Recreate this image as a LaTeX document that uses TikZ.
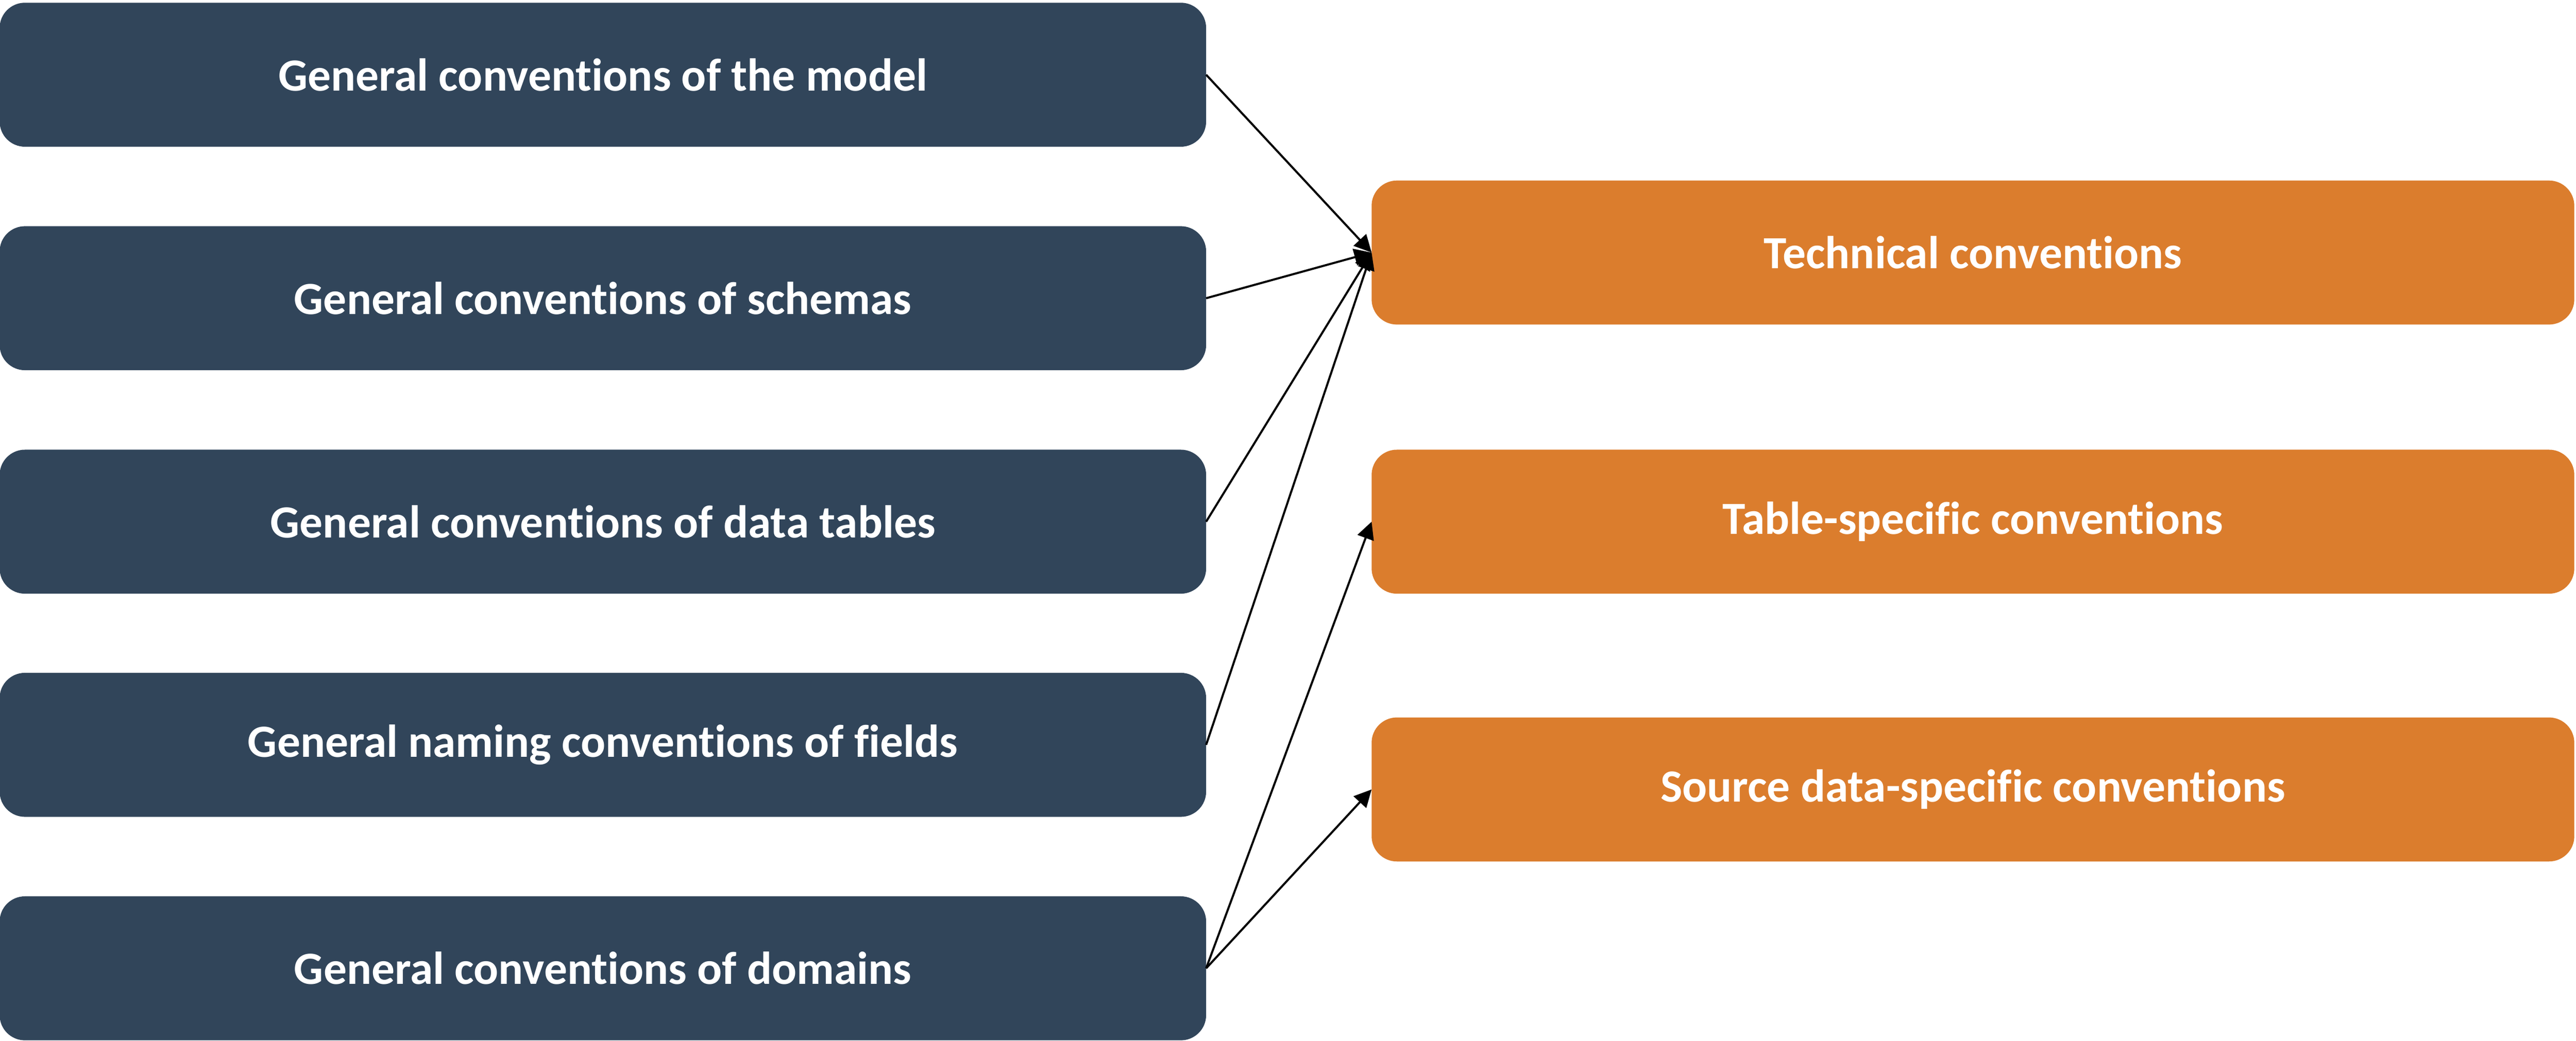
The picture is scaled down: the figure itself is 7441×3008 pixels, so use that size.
\documentclass[tikz,border=0pt]{standalone}
\usepackage{fontspec}
\setmainfont{Carlito}[Ligatures={NoCommon}]
\usetikzlibrary{arrows.meta}
\definecolor{navy}{HTML}{31455A}
\definecolor{orng}{HTML}{DB7D2D}
\tikzset{
  genbox/.style={fill=navy, rounded corners=0.73cm, minimum width=34.83cm, minimum height=4.16cm, inner sep=0pt, outer sep=0pt, text=white, font=\fontsize{37.9pt}{45pt}\selectfont\bfseries},
  convbox/.style={genbox, fill=orng, minimum width=34.72cm},
  link/.style={line width=0.06cm, -{Triangle[length=0.5cm, width=0.49cm]}}
}
\begin{document}
\begin{tikzpicture}[x=0.01cm,y=-0.01cm]
\useasboundingbox (0,0) rectangle (7441,3008);
\node[genbox] (g1) at (1741.5,216) {General conventions of the model};
\node[genbox] (g2) at (1741.5,862) {General conventions of schemas};
\node[genbox] (g3) at (1741.5,1508) {General conventions of data tables};
\node[genbox] (g4) at (1741.5,2153) {General naming conventions of fields};
\node[genbox] (g5) at (1741.5,2799) {General conventions of domains};
\node[convbox] (tech) at (5699,730) {Technical conventions};
\node[convbox] (tab) at (5699,1508) {Table-specific conventions};
\node[convbox] (src) at (5699,2282) {Source data-specific conventions};
\draw[link] (g1.east) -- (tech.west);
\draw[link] (g2.east) -- (tech.west);
\draw[link] (g3.east) -- (tech.west);
\draw[link] (g4.east) -- (tech.west);
\draw[link] (g5.east) -- (tab.west);
\draw[link] (g5.east) -- (src.west);
\end{tikzpicture}
\end{document}
